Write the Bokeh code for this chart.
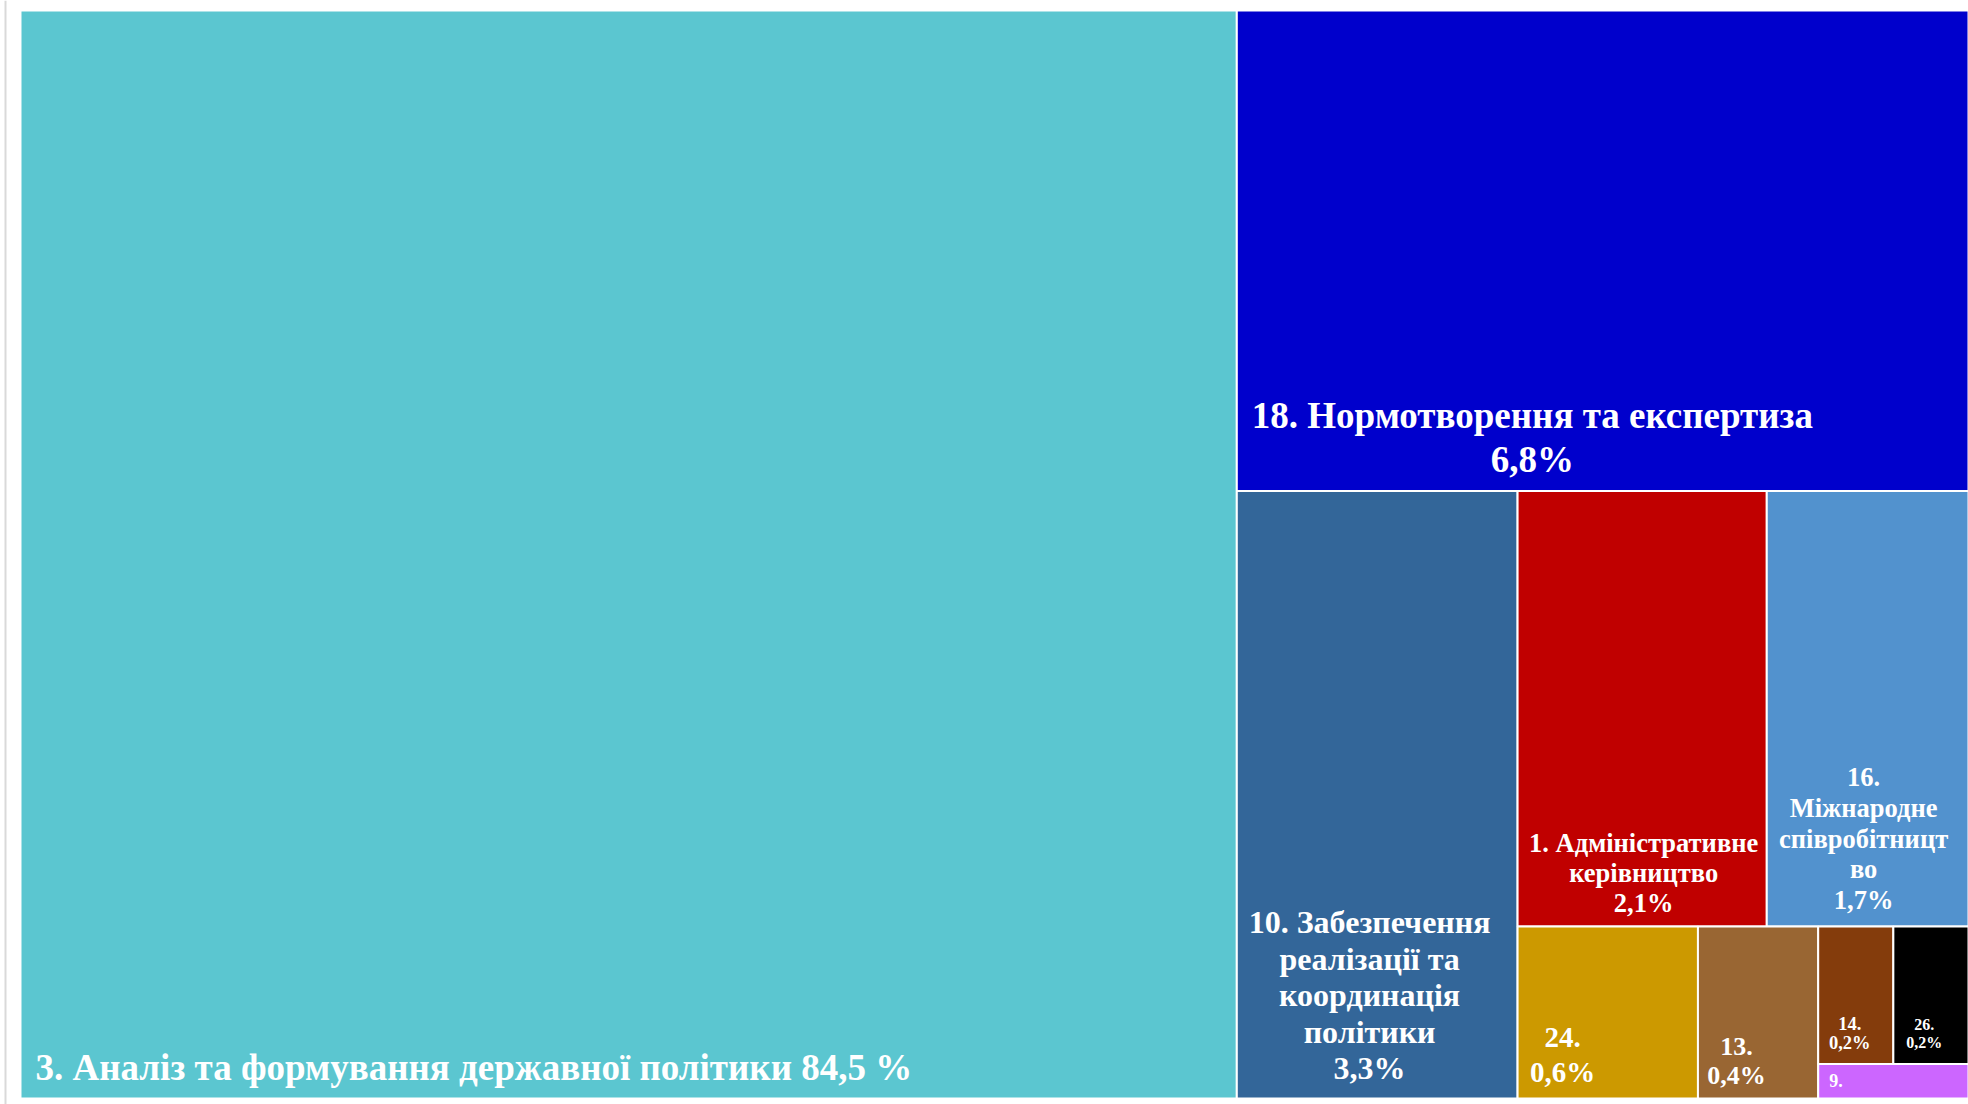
from bokeh.plotting import figure
from bokeh.models import Range1d, ColumnDataSource
from bokeh.core.properties import value
from bokeh.embed import file_html
from bokeh.resources import INLINE

# ---------------- data ----------------
codes = ["3", "18", "10", "1", "16", "24", "13", "14", "26", "9"]
labels = [
    "3. Аналіз та формування державної політики 84,5 %",
    "18. Нормотворення та експертиза\n6,8%",
    "10. Забезпечення\nреалізації та\nкоординація\nполітики\n3,3%",
    "1. Адміністративне\nкерівництво\n2,1%",
    "16.\nМіжнародне\nспівробітницт\nво\n1,7%",
    "24.\n0,6%",
    "13.\n0,4%",
    "14.\n0,2%",
    "26.\n0,2%",
    "9.",
]
shares = [84.5, 6.8, 3.3, 2.1, 1.7, 0.6, 0.4, 0.2, 0.2, None]
# cell area weights as drawn in the picture
sizes = [25.6, 6.8, 3.3, 2.1, 1.7, 0.6, 0.4, 0.2, 0.2, 0.1]

# ---------------- styles ----------------
colors = ["#5BC6D0", "#0000CC", "#336699", "#C00000", "#5292CE",
          "#CC9900", "#996633", "#843C0C", "#000000", "#CC66FF"]
# (align, x-anchor fraction or left offset, last-baseline offset from bottom, font px, line spacing)
label_style = [
    ("left", 15, 31, 37, 40),
    ("center", 0.404, 31.5, 37, 44),
    ("center", 0.473, 30.5, 32, 36.5),
    ("center", 0.506, 24, 26.5, 30),
    ("center", 0.48, 26.5, 26.5, 30.75),
    ("center", 0.25, 27, 29, 34),
    ("center", 0.32, 23.5, 26, 29),
    ("center", 0.42, 21, 18.5, 20),
    ("center", 0.41, 22, 16, 17.5),
    ("left", 11, 18.5, 18, 20),
]

# nested split structure: "h" = side by side, "v" = stacked
structure = ("h", [0, ("v", [1, ("h", [2, ("v", [("h", [3, 4]),
                                                  ("h", [5, 6, ("v", [("h", [7, 8]), 9])])])])])])

W, H = 1948.0, 1088.0


def total(node):
    if isinstance(node, int):
        return sizes[node]
    return sum(total(c) for c in node[1])


rects = {}


def layout(node, x0, y0, x1, y1):
    if isinstance(node, int):
        rects[node] = (x0, y0, x1, y1)
        return
    d, children = node
    t = total(node)
    pos = x0 if d == "h" else y0
    for c in children:
        frac = total(c) / t
        if d == "h":
            w = (x1 - x0) * frac
            layout(c, pos, y0, pos + w, y1)
            pos += w
        else:
            h = (y1 - y0) * frac
            layout(c, x0, pos, x1, pos + h)
            pos += h


layout(structure, 0, 0, W, H)

n = len(codes)
src = ColumnDataSource(dict(
    left=[rects[i][0] for i in range(n)],
    right=[rects[i][2] for i in range(n)],
    top=[rects[i][1] for i in range(n)],
    bottom=[rects[i][3] for i in range(n)],
    color=colors,
    code=codes,
))

p = figure(width=1968, height=1104, output_backend="svg", toolbar_location=None,
           x_range=Range1d(-20, 1948), y_range=Range1d(1094, -10),
           min_border=0, min_border_left=0, min_border_right=0,
           min_border_top=0, min_border_bottom=0)
p.axis.visible = False
p.grid.visible = False
p.outline_line_color = None
p.background_fill_color = "white"
p.border_fill_color = "white"

# thin grey page edge on the left
p.segment(x0=[-15], y0=[-10], x1=[-15], y1=[1094], line_color="#D9D9D9", line_width=2)

p.quad(left="left", right="right", top="top", bottom="bottom", source=src,
       fill_color="color", line_color="white", line_width=2)

for i in range(n):
    x0, y0, x1, y1 = rects[i]
    align, ax, boff, fs, ls = label_style[i]
    lines = labels[i].split("\n")
    if align == "left":
        tx = x0 + ax
    else:
        tx = x0 + ax * (x1 - x0)
    last = y1 - boff
    k = len(lines)
    ys = [last - (k - 1 - j) * ls for j in range(k)]
    p.text(x=[tx] * k, y=ys, text=lines,
           text_font=value("Liberation Serif"), text_font_style="bold",
           text_font_size=f"{fs}px", text_color="white",
           text_align=align, text_baseline="alphabetic")

open("out.html", "w").write(file_html(p, INLINE))
